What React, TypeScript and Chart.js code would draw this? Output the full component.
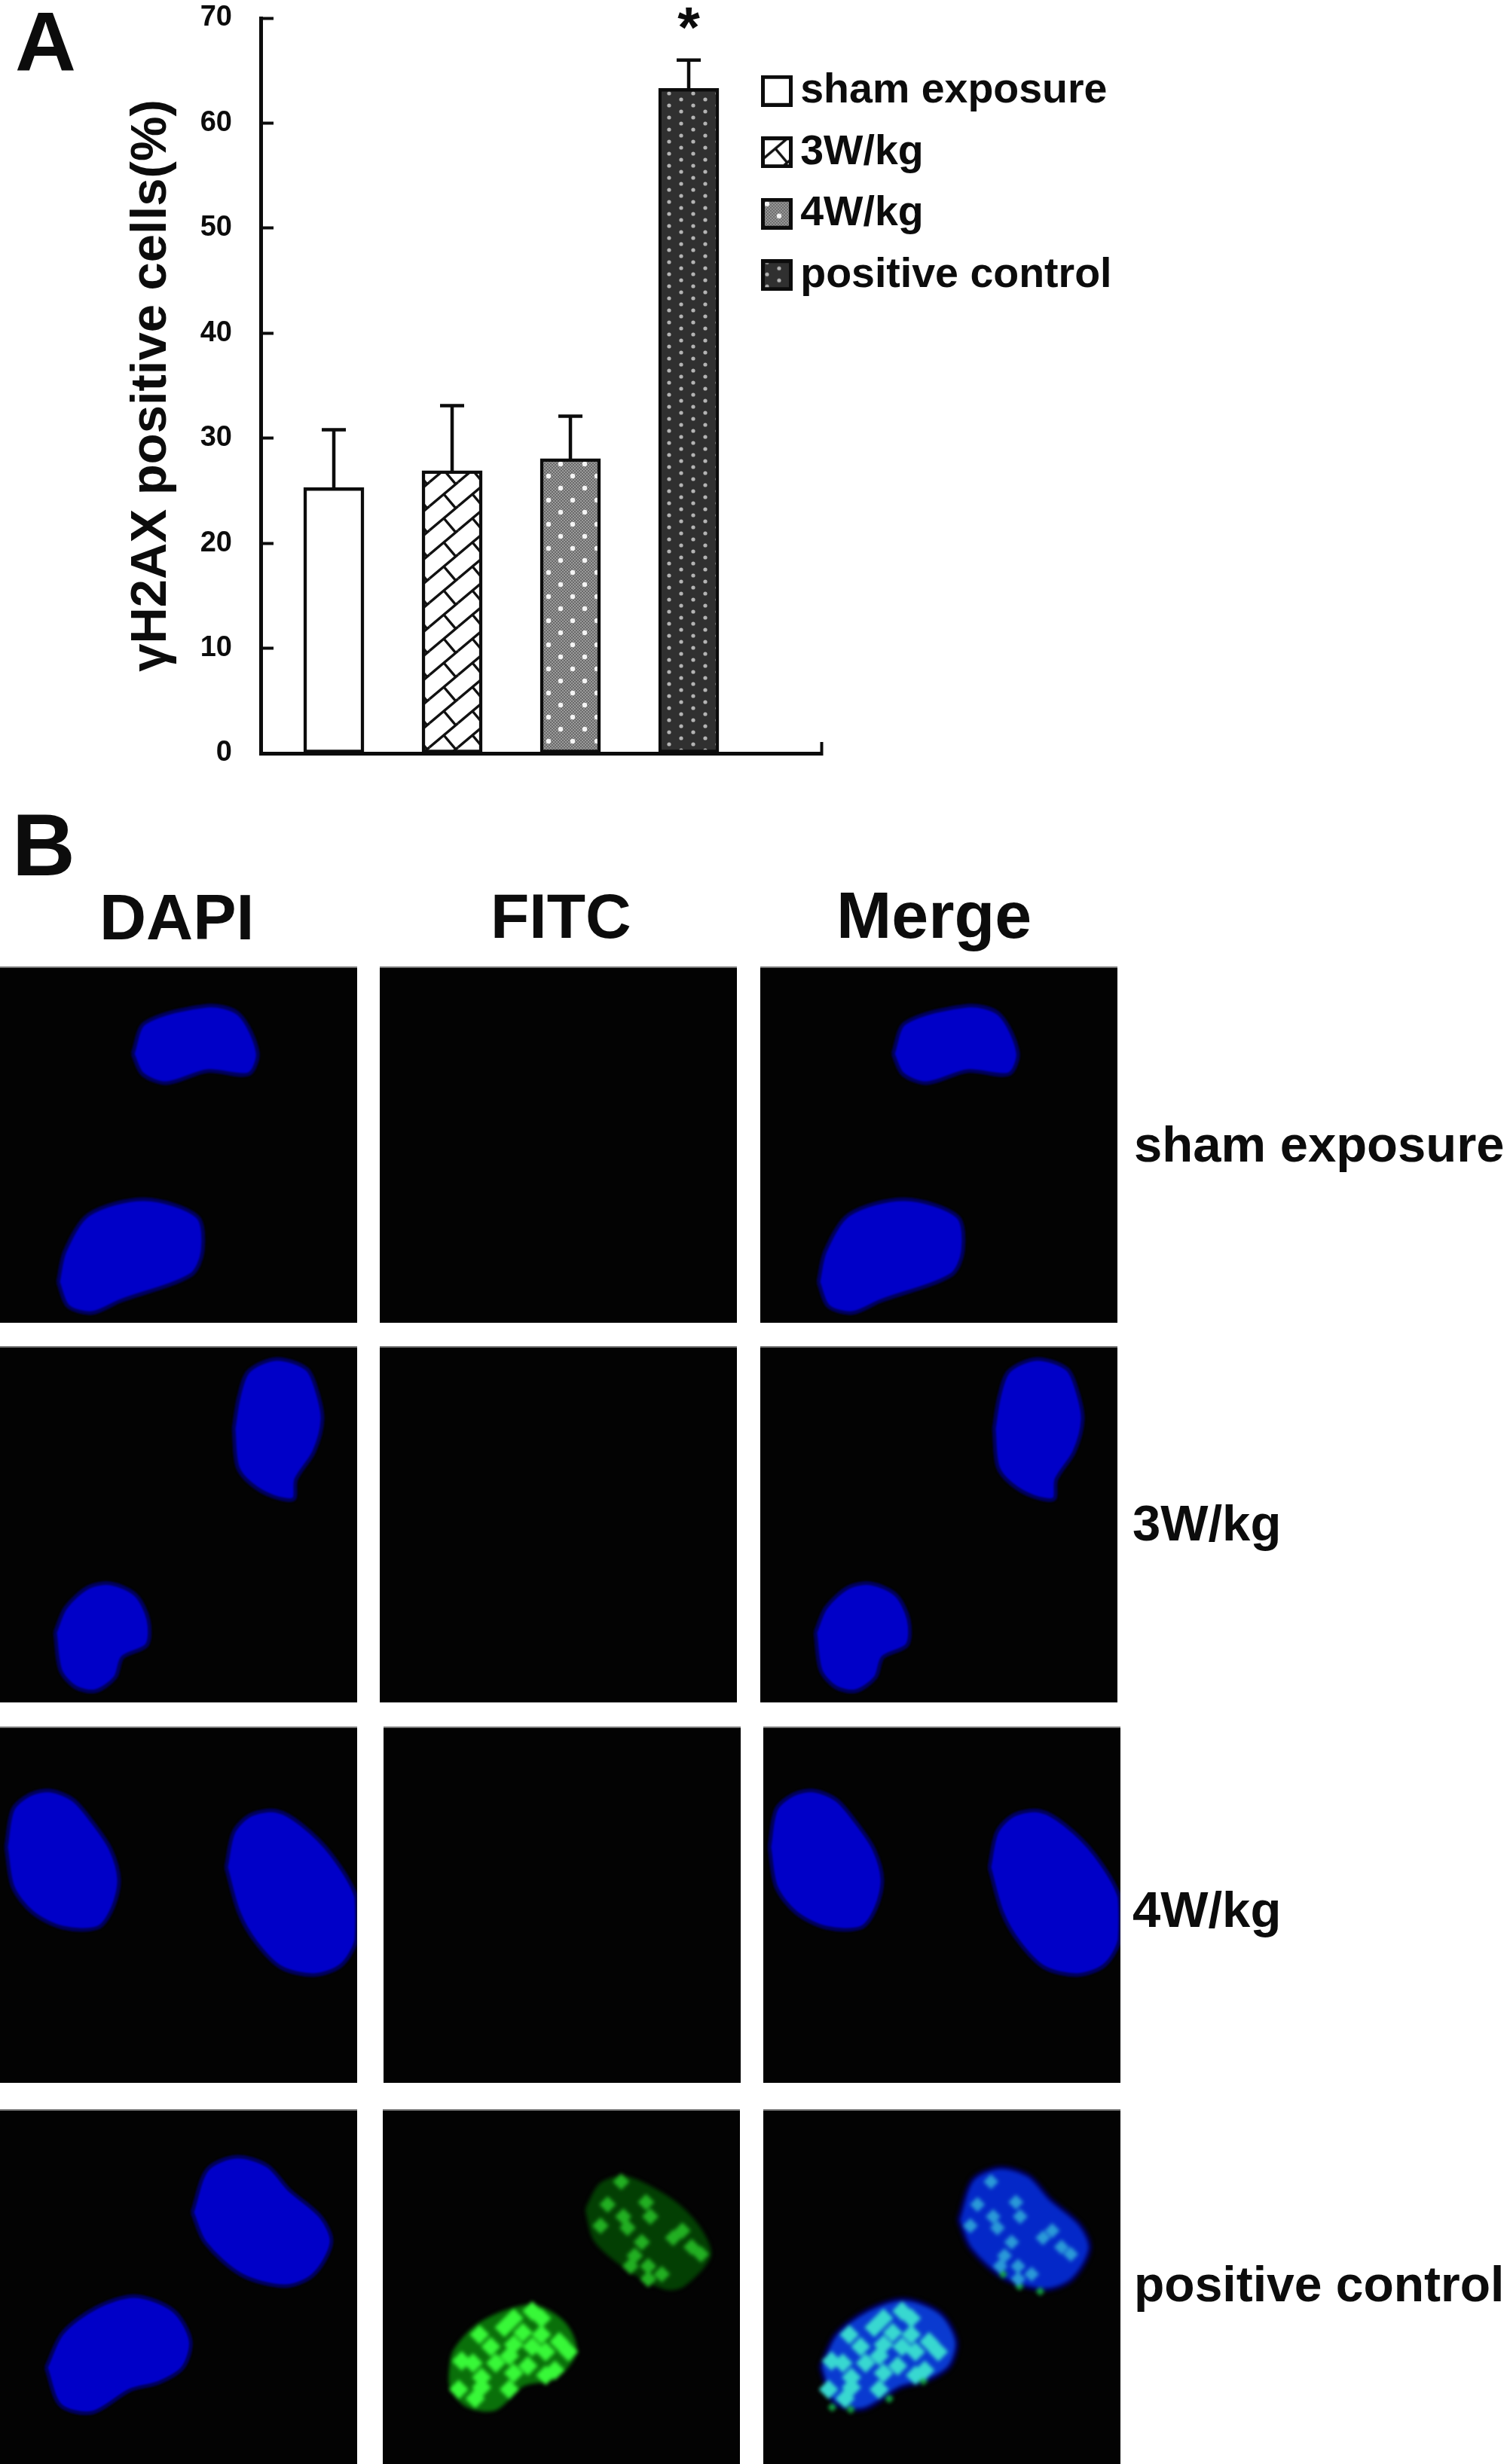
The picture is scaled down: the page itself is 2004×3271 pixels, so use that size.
import React, { useEffect, useRef } from "react";
import { Chart, registerables } from "chart.js";

Chart.register(...registerables);

// ---------- Panel A data ----------
const groupLabels = ["sham exposure", "3W/kg", "4W/kg", "positive control"];
const meanValues = [25.3, 26.9, 28.05, 63.3];
const errorTops = [30.8, 33.1, 32.1, 66.0];
const significance = ["", "", "", "*"];
const yTicks = [0, 10, 20, 30, 40, 50, 60, 70];

// ---------- Panel B data: nucleus outlines and foci, read in image pixels of each tile ----------
type P = [number, number];
const shamTop: P[] = [[176, 116], [192, 75], [275, 52], [317, 63], [342, 114], [330, 143], [275, 139], [221, 155], [189, 143]];
const shamBottom: P[] = [[77, 419], [86, 378], [118, 329], [192, 309], [262, 332], [269, 378], [253, 410], [160, 444], [122, 460], [90, 451]];
const w3Top: P[] = [[310, 110], [317, 67], [330, 33], [367, 17], [407, 30], [420, 57], [428, 97], [417, 140], [393, 177], [390, 203], [363, 200], [333, 183], [315, 160]];
const w3Bottom: P[] = [[73, 380], [87, 347], [117, 320], [147, 315], [180, 330], [197, 363], [195, 397], [163, 413], [153, 440], [127, 458], [100, 453], [80, 430]];
const w4Left: P[] = [[8, 160], [17, 110], [40, 90], [67, 85], [97, 97], [123, 127], [147, 163], [158, 203], [150, 240], [130, 267], [83, 267], [43, 247], [17, 213]];
const w4Right: P[] = [[300, 187], [310, 140], [333, 117], [367, 112], [400, 130], [440, 170], [473, 227], [473, 283], [453, 317], [417, 330], [373, 320], [340, 287], [317, 247]];
const posTop: P[] = [[255, 137], [275, 80], [314, 63], [355, 75], [384, 107], [426, 143], [440, 177], [416, 220], [378, 235], [320, 220], [272, 177]];
const posBottom: P[] = [[61, 343], [83, 297], [128, 263], [179, 248], [230, 267], [253, 307], [243, 343], [211, 363], [173, 373], [122, 403], [80, 393]];
const fitcTop: P[] = [[273, 127], [292, 93], [324, 82], [362, 97], [402, 123], [434, 160], [444, 193], [408, 233], [383, 237], [331, 210], [285, 170]];
const fitcBottom: P[] = [[81, 363], [87, 327], [125, 287], [195, 263], [240, 287], [256, 327], [227, 363], [183, 373], [144, 407], [106, 403], [84, 380]];
const fociBottom: P[] = [[196, 270], [209, 280], [170, 280], [157, 293], [122, 303], [209, 303], [234, 313], [138, 320], [170, 317], [196, 320], [247, 327], [215, 327], [164, 333], [113, 343], [145, 343], [190, 347], [215, 360], [228, 353], [125, 363], [170, 357], [93, 380], [125, 377], [164, 380], [116, 393], [97, 340], [183, 300]];
const fociTop: P[] = [[321, 88], [302, 120], [356, 117], [362, 137], [330, 153], [407, 157], [350, 173], [340, 192], [334, 207], [359, 207], [378, 218], [359, 225], [420, 180], [433, 190], [292, 150], [324, 137], [394, 167]];
const mergeEdge: P[] = [[211, 368], [163, 393], [109, 408], [83, 405], [323, 218], [346, 235], [375, 242]];

const colTitles = ["DAPI", "FITC", "Merge"];
const rowTitles = ["sham exposure", "3W/kg", "4W/kg", "positive control"];

const INK = "#0c0c0c";
const FONT = "'Liberation Sans', Arial, sans-serif";

function tile(w: number, h: number, paint: (c: CanvasRenderingContext2D) => void) {
  const cv = document.createElement("canvas");
  cv.width = w;
  cv.height = h;
  paint(cv.getContext("2d")!);
  return cv;
}

function makeTiles() {
  const white = tile(8, 8, (c) => {
    c.fillStyle = "#fff";
    c.fillRect(0, 0, 8, 8);
  });
  const brick = tile(38, 32, (c) => {
    c.fillStyle = "#fff";
    c.fillRect(0, 0, 38, 32);
    c.strokeStyle = "#111";
    c.lineWidth = 3.4;
    for (let ox = -38; ox <= 38; ox += 38)
      for (let oy = -32; oy <= 32; oy += 32) {
        c.beginPath();
        c.moveTo(ox, oy + 32);
        c.lineTo(ox + 38, oy);
        c.moveTo(ox + 19, oy + 16);
        c.lineTo(ox + 34.8, oy + 34.7);
        c.stroke();
      }
  });
  const grey = tile(32, 32, (c) => {
    for (let y = 0; y < 32; y += 2)
      for (let x = 0; x < 32; x += 2) {
        c.fillStyle = (x + y) % 4 === 0 ? "#6a6a6a" : "#9a9a9a";
        c.fillRect(x, y, 2, 2);
      }
    c.fillStyle = "#f4f4f4";
    for (const [x, y] of [[8, 8], [24, 24]]) {
      c.beginPath();
      c.arc(x, y, 3.2, 0, Math.PI * 2);
      c.fill();
    }
  });
  const dark = tile(32, 16, (c) => {
    c.fillStyle = "#303030";
    c.fillRect(0, 0, 32, 16);
    c.fillStyle = "#b4b4b4";
    for (const [x, y] of [[8, 4], [24, 12]]) {
      c.beginPath();
      c.arc(x, y, 2.6, 0, Math.PI * 2);
      c.fill();
    }
  });
  return [white, brick, grey, dark];
}

function BarPanel() {
  const ref = useRef<HTMLCanvasElement>(null);
  useEffect(() => {
    const ctx = ref.current!.getContext("2d")!;
    const tiles = makeTiles();
    const fills = tiles.map((t) => ctx.createPattern(t, "repeat")!);
    const swatches = fills.map((_, i) =>
      tile(42, 42, (c) => {
        c.fillStyle = c.createPattern(tiles[i], "repeat")!;
        c.fillRect(0, 0, 42, 42);
        c.strokeStyle = INK;
        c.lineWidth = 5;
        c.strokeRect(2.5, 2.5, 37, 37);
      })
    );

    const errorBars = {
      id: "errorBars",
      afterDatasetsDraw(chart: any) {
        const c = chart.ctx;
        const y = chart.scales.y;
        c.save();
        c.strokeStyle = INK;
        c.lineWidth = 4.5;
        chart.getDatasetMeta(0).data.forEach((el: any, i: number) => {
          const top = y.getPixelForValue(errorTops[i]);
          c.beginPath();
          c.moveTo(el.x, el.y);
          c.lineTo(el.x, top);
          c.moveTo(el.x - 16, top);
          c.lineTo(el.x + 16, top);
          c.stroke();
          if (significance[i]) {
            c.fillStyle = INK;
            c.font = `bold 76px ${FONT}`;
            c.textAlign = "center";
            c.textBaseline = "alphabetic";
            c.fillText(significance[i], el.x, top - 18);
          }
        });
        c.restore();
      },
    };
    const legendPlacer = {
      id: "legendPlacer",
      beforeDraw(chart: any) {
        const l = chart.legend;
        l.left = 1001.5;
        l.right = 1600;
        l.top = 67;
        l.bottom = 600;
      },
    };

    const chart = new Chart(ref.current!, {
      type: "bar",
      data: {
        datasets: [
          {
            label: "γH2AX positive cells(%)",
            data: meanValues.map((y, x) => ({ x, y })),
            backgroundColor: fills,
            borderColor: INK,
            borderWidth: 4.5,
            borderSkipped: false,
            barThickness: 80,
          },
        ],
      },
      options: {
        animation: false,
        responsive: false,
        layout: { padding: { top: 24, left: 0, right: 1600 - 1090, bottom: 1060 - 1000 } },
        scales: {
          x: {
            type: "linear",
            offset: false,
            min: -0.618,
            max: 4.121,
            afterBuildTicks(s: any) {
              s.ticks = [{ value: 4.121 }];
            },
            afterFit(s: any) {
              s.height = 0;
              s.paddingLeft = 0;
              s.paddingRight = 0;
            },
            ticks: { display: false },
            border: { color: INK, width: 5 },
            grid: { offset: false, drawOnChartArea: false, tickLength: -15, tickWidth: 4, tickColor: INK },
          },
          y: {
            min: 0,
            max: 70,
            afterBuildTicks(s: any) {
              s.ticks = yTicks.map((value) => ({ value }));
            },
            afterFit(s: any) {
              s.width = 346;
              s.paddingTop = 0;
              s.paddingBottom = 0;
            },
            ticks: {
              color: INK,
              padding: 55,
              font: { family: FONT, size: 38, weight: "bold" },
            },
            title: {
              display: true,
              text: "γH2AX positive cells(%)",
              color: INK,
              padding: { top: 161, bottom: 0 },
              font: { family: FONT, size: 67, weight: "bold" },
            },
            border: { color: INK, width: 5 },
            grid: { drawOnChartArea: false, tickLength: -17, tickWidth: 4, tickColor: INK },
          },
        },
        plugins: {
          tooltip: { enabled: false },
          legend: {
            position: "chartArea",
            align: "start",
            labels: {
              usePointStyle: true,
              pointStyleWidth: 7,
              color: INK,
              padding: 26,
              font: { family: FONT, size: 55.5, weight: "bold", lineHeight: 1 },
              generateLabels: () =>
                groupLabels.map((text, i) => ({
                  text,
                  datasetIndex: 0,
                  index: i,
                  fontColor: INK,
                  pointStyle: swatches[i],
                  lineWidth: 0,
                })),
            },
          },
        },
      } as any,
      plugins: [errorBars, legendPlacer],
    });
    return () => chart.destroy();
  }, []);
  return <canvas ref={ref} width={1600} height={1060} style={{ position: "absolute", left: 0, top: 0 }} />;
}

type Blob = { pts: P[]; fill: string; edge: string };
type Spots = { pts: P[]; color: string; r: number };

function Tile(props: { left: number; top: number; w: number; h: number; blobs: Blob[]; spots?: Spots[] }) {
  const ref = useRef<HTMLCanvasElement>(null);
  useEffect(() => {
    const toXY = (pts: P[]) => pts.map(([x, y]) => ({ x, y }));
    const chart = new Chart(ref.current!, {
      type: "scatter",
      data: {
        datasets: [
          ...(props.spots ?? []).map((s) => ({
            data: toXY(s.pts),
            showLine: false,
            pointStyle: "rectRot",
            pointRadius: s.r,
            pointBackgroundColor: s.color,
            pointBorderWidth: 0,
            order: 0,
          })),
          ...props.blobs.map((b) => ({
            data: toXY([...b.pts, b.pts[0]]),
            showLine: true,
            tension: 0.3,
            fill: "shape",
            backgroundColor: b.fill,
            borderColor: b.edge,
            borderWidth: 5,
            pointRadius: 0,
            order: 1,
          })),
        ],
      },
      options: {
        animation: false,
        responsive: false,
        layout: { padding: 0 },
        plugins: { legend: { display: false }, tooltip: { enabled: false } },
        scales: {
          x: { type: "linear", display: false, min: 0, max: props.w },
          y: { type: "linear", display: false, min: 0, max: props.h, reverse: true },
        },
      } as any,
    });
    return () => chart.destroy();
  }, []);
  return (
    <div
      style={{
        position: "absolute",
        left: props.left,
        top: props.top,
        width: props.w,
        height: props.h,
        overflow: "hidden",
        background: "#030303",
      }}
    >
      <canvas
        ref={ref}
        width={props.w}
        height={props.h}
        style={{ display: "block", filter: props.spots ? "blur(2.5px)" : "blur(1px)" }}
      />
      <div style={{ position: "absolute", left: 0, top: 0, width: props.w, height: 2, background: "#777" }} />
    </div>
  );
}

const shift = (pts: P[], dx: number, dy: number): P[] => pts.map(([x, y]) => [x + dx, y + dy]);
const BLUE = "#0000c8";
const HALO = "#00005c";
const blue = (pts: P[], fill = BLUE): Blob => ({ pts, fill, edge: HALO });

function Label(props: { text: string; left: number; top: number; size: number }) {
  return (
    <div
      style={{
        position: "absolute",
        left: props.left,
        top: props.top,
        fontFamily: FONT,
        fontWeight: "bold",
        fontSize: props.size,
        lineHeight: 1,
        color: INK,
        whiteSpace: "nowrap",
      }}
    >
      {props.text}
    </div>
  );
}

export default function App() {
  const rows = [
    { top: 1283, h: 473, a: [shamTop, shamBottom], x: [0, 504, 1009] },
    { top: 1787, h: 473, a: [w3Top, w3Bottom], x: [0, 504, 1009] },
    { top: 2292, h: 473, a: [w4Left, w4Right], x: [0, 509, 1013] },
  ];
  return (
    <div style={{ position: "absolute", left: 0, top: 0, width: 2004, height: 3271, overflow: "hidden", background: "#fff" }}>
      <BarPanel />
      <Label text="A" left={20} top={0} size={112} />
      <Label text="B" left={16} top={1064} size={116} />
      <Label text={colTitles[0]} left={132} top={1174} size={86} />
      <Label text={colTitles[1]} left={651} top={1174} size={84} />
      <Label text={colTitles[2]} left={1110} top={1171} size={88} />
      <Label text={rowTitles[0]} left={1505} top={1485} size={67} />
      <Label text={rowTitles[1]} left={1503} top={1988} size={67} />
      <Label text={rowTitles[2]} left={1503} top={2501} size={67} />
      <Label text={rowTitles[3]} left={1505} top={2999} size={66} />
      {rows.map((r) => (
        <React.Fragment key={r.top}>
          <Tile left={r.x[0]} top={r.top} w={474} h={r.h} blobs={r.a.map((p) => blue(p))} />
          <Tile left={r.x[1]} top={r.top} w={474} h={r.h} blobs={[]} />
          <Tile left={r.x[2]} top={r.top} w={474} h={r.h} blobs={r.a.map((p) => blue(p))} />
        </React.Fragment>
      ))}
      <Tile left={0} top={2800} w={474} h={471} blobs={[blue(posTop), blue(posBottom)]} />
      <Tile
        left={508}
        top={2800}
        w={474}
        h={471}
        blobs={[
          { pts: fitcTop, fill: "#033f03", edge: "#033f03" },
          { pts: fitcBottom, fill: "#0a700a", edge: "#0a700a" },
        ]}
        spots={[
          { pts: fociTop, color: "#22b022", r: 11 },
          { pts: fociBottom, color: "#38f838", r: 13 },
        ]}
      />
      <Tile
        left={1013}
        top={2800}
        w={474}
        h={471}
        blobs={[blue(shift(posTop, 5, 5), "#0428c8"), blue(shift(posBottom, 5, 5), "#0a3ad0")]}
        spots={[
          { pts: shift(fociTop, -15, 0), color: "#2a9ad8", r: 10 },
          { pts: shift(fociBottom, -15, 0), color: "#38d8d0", r: 13 },
          { pts: shift(mergeEdge, 0, 0), color: "#12a040", r: 6 },
        ]}
      />
    </div>
  );
}
